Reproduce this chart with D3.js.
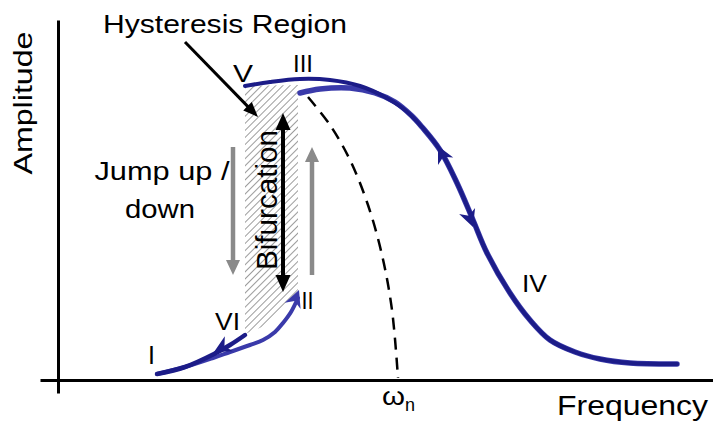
<!DOCTYPE html>
<html><head><meta charset="utf-8">
<script src="https://cdn.jsdelivr.net/npm/d3@7"></script>
<style>body{margin:0;background:#fff}</style>
</head><body><svg id="chart" width="713" height="423"></svg>
<script>
// Frequency response of a softening nonlinear oscillator with its hysteresis loop.
// Units are arbitrary: frequency and amplitude along the drawn axes.

// Upper (resonant) branch, swept downward in frequency: IV -> III -> V
const upperBranch = [[187,294],[212,298],[242,301],[272,300],[302,294],[327,283],[347,270],[364,253],[382,230],[399,197],[415,160],[429,127],[452,87],[472,60],[492,40],[517,28],[542,21],[572,17],[619,16]];
// Upper branch reached after the jump up, swept upward: III -> IV
const upperSweepUp = [[242,287],[262,291],[292,292],[317,287],[337,278],[354,264],[364,253],[382,230],[399,197],[415,160],[429,127],[452,87],[472,60],[492,40],[517,28],[542,21],[572,17],[619,16]];
// Lower branch, swept upward: I -> II
const lowerBranch = [[99,6],[127,13],[155,22],[172,28],[192,35],[205,40],[217,48],[225,57],[233,68],[240,82]];
// After the jump down: VI -> I
const dropBranch = [[187,45],[172,35],[156,26],[127,13],[99,6]];
// Backbone curve down to the natural frequency
const backbone = [[250,283],[272,255],[292,220],[310,175],[324,125],[334,70],[340,2]];
// Hysteresis region outline
const hysteresis = [[187,294],[240,295],[240,90],[222,68],[204,53],[187,46]];
const omegaN = 340;

// Arrowheads along the branches: tip and a point behind it
const branchArrows = [
  {tip:[380,234], from:[392,210], color:"#1c1c88"},
  {tip:[415,153], from:[405,180], color:"#1c1c88"},
  {tip:[241,90],  from:[233,70],  color:"#3a3aaa"},
  {tip:[156,28],  from:[187,45],  color:"#1c1c88"}
];
// Straight jump / bifurcation arrows
const jumpArrows = [
  {f:175, a0:233, a1:105, color:"#8a8a8a", w:4.5},
  {f:254, a0:105, a1:233, color:"#8a8a8a", w:4.5}
];
const bifurcation = {f:225, a0:88, a1:267};
const pointer = {from:[127,338], to:[200,263]};

const labels = [
  {t:"Hysteresis Region", f:45, a:347, size:25, len:244, anchor:"start"},
  {t:"Jump up /", f:104, a:200, size:25, len:135, anchor:"middle"},
  {t:"down", f:102, a:162, size:25, len:70, anchor:"middle"},
  {t:"Frequency", f:499, a:-35, size:28, len:151, anchor:"start"},
  {t:"I", f:93.5, a:16, size:25, anchor:"middle"},
  {t:"VI", f:169.5, a:50, size:24, len:25, anchor:"middle"},
  {t:"II", f:249.5, a:71, size:23, len:12, anchor:"middle"},
  {t:"V", f:185, a:298, size:24, len:20, anchor:"middle"},
  {t:"III", f:245, a:308, size:24, len:20, anchor:"middle"},
  {t:"IV", f:476.5, a:88, size:24, len:25, anchor:"middle"}
];
const vLabels = [
  {t:"Amplitude", f:-26, a:277, size:25, len:143},
  {t:"Bifurcation", f:219, a:180, size:30, len:140}
];

const svg = d3.select("#chart");
const font = "Arial, 'Liberation Sans', sans-serif";

const x = d3.scaleLinear().domain([-18, 655]).range([40, 713]);
const y = d3.scaleLinear().domain([-13, 360]).range([393, 20]);

const line = d3.line().x(d => x(d[0])).y(d => y(d[1])).curve(d3.curveCatmullRom.alpha(0.5));

// hatch pattern
const defs = svg.append("defs");
defs.append("pattern").attr("id","hatch").attr("patternUnits","userSpaceOnUse")
  .attr("width",5).attr("height",5).attr("patternTransform","rotate(45)")
  .append("line").attr("x1",0).attr("y1",0).attr("x2",0).attr("y2",5)
  .attr("stroke","#8a8a8a").attr("stroke-width",1.7);

// axes
const xAxis = svg.append("g").attr("transform",`translate(0,${y(0)})`)
  .call(d3.axisBottom(x).tickValues([]).tickSizeOuter(0));
const yAxis = svg.append("g").attr("transform",`translate(${x(0)},0)`)
  .call(d3.axisLeft(y).tickValues([]).tickSizeOuter(0));
[xAxis, yAxis].forEach(g => g.select(".domain").attr("stroke","#000").attr("stroke-width",3));

// hysteresis region
svg.append("path").attr("d", d3.line().x(d=>x(d[0])).y(d=>y(d[1])).curve(d3.curveLinearClosed)(hysteresis))
  .attr("fill","url(#hatch)");

// backbone
svg.append("path").attr("d", line(backbone)).attr("fill","none")
  .attr("stroke","#000").attr("stroke-width",2.5).attr("stroke-dasharray","12,8");

// branches
svg.append("path").attr("d", line(upperSweepUp)).attr("fill","none")
  .attr("stroke","#3a3aaa").attr("stroke-width",5.5).attr("stroke-linecap","round");
svg.append("path").attr("d", line(upperBranch)).attr("fill","none")
  .attr("stroke","#1c1c88").attr("stroke-width",4).attr("stroke-linecap","round");
svg.append("path").attr("d", line(lowerBranch)).attr("fill","none")
  .attr("stroke","#3a3aaa").attr("stroke-width",4).attr("stroke-linecap","round");
svg.append("path").attr("d", line(dropBranch)).attr("fill","none")
  .attr("stroke","#1c1c88").attr("stroke-width",4.5).attr("stroke-linecap","round");

// arrowhead helper (pixel tip, unit direction)
function head(tx, ty, dx, dy, len, wid, notch, color){
  const n = Math.hypot(dx,dy); dx/=n; dy/=n;
  const px=-dy, py=dx;
  const bx=tx-dx*len, by=ty-dy*len;
  const pts=[[tx,ty],[bx+px*wid/2,by+py*wid/2],[tx-dx*len*(1-notch),ty-dy*len*(1-notch)],[bx-px*wid/2,by-py*wid/2]];
  svg.append("path").attr("d","M"+pts.map(p=>p.join(",")).join("L")+"Z").attr("fill",color);
}

branchArrows.forEach(a => {
  const tx=x(a.tip[0]), ty=y(a.tip[1]);
  head(tx,ty,tx-x(a.from[0]),ty-y(a.from[1]),17,17,0.3,a.color);
});

// jump arrows
jumpArrows.forEach(a => {
  const dir = Math.sign(y(a.a1)-y(a.a0));
  svg.append("line").attr("x1",x(a.f)).attr("x2",x(a.f))
    .attr("y1",y(a.a0)).attr("y2",y(a.a1)-dir*12)
    .attr("stroke",a.color).attr("stroke-width",a.w);
  head(x(a.f),y(a.a1),0,dir,15,14,0,a.color);
});

// bifurcation double arrow
svg.append("line").attr("x1",x(bifurcation.f)).attr("x2",x(bifurcation.f))
  .attr("y1",y(bifurcation.a0)-12).attr("y2",y(bifurcation.a1)+12)
  .attr("stroke","#000").attr("stroke-width",4);
head(x(bifurcation.f),y(bifurcation.a0),0,1,17,15,0,"#000");
head(x(bifurcation.f),y(bifurcation.a1),0,-1,17,15,0,"#000");

// pointer to the hysteresis region
{
  const x0=x(pointer.from[0]), y0=y(pointer.from[1]), x1=x(pointer.to[0]), y1=y(pointer.to[1]);
  const d=Math.hypot(x1-x0,y1-y0);
  svg.append("line").attr("x1",x0).attr("y1",y0)
    .attr("x2",x1-(x1-x0)/d*12).attr("y2",y1-(y1-y0)/d*12)
    .attr("stroke","#000").attr("stroke-width",3);
  head(x1,y1,x1-x0,y1-y0,15,12,0,"#000");
}

// text
labels.forEach(l => {
  const t = svg.append("text").attr("x",x(l.f)).attr("y",y(l.a))
    .attr("text-anchor",l.anchor).attr("font-family",font).attr("font-size",l.size)
    .attr("fill","#000").text(l.t);
  if (l.len) t.attr("textLength",l.len).attr("lengthAdjust","spacingAndGlyphs");
});
vLabels.forEach(l => {
  svg.append("text").attr("transform",`translate(${x(l.f)},${y(l.a)}) rotate(-90)`)
    .attr("text-anchor","middle").attr("font-family",font).attr("font-size",l.size)
    .attr("textLength",l.len).attr("lengthAdjust","spacingAndGlyphs")
    .attr("fill","#000").text(l.t);
});

// natural frequency label
const wn = svg.append("text").attr("font-family",font).attr("fill","#000");
wn.append("tspan").attr("x",x(omegaN-16)).attr("y",y(-25)).attr("font-size",25)
  .attr("textLength",23).attr("lengthAdjust","spacingAndGlyphs").text("ω");
wn.append("tspan").attr("x",x(omegaN+7)).attr("y",y(-31)).attr("font-size",18).text("n");
</script>
</body></html>
